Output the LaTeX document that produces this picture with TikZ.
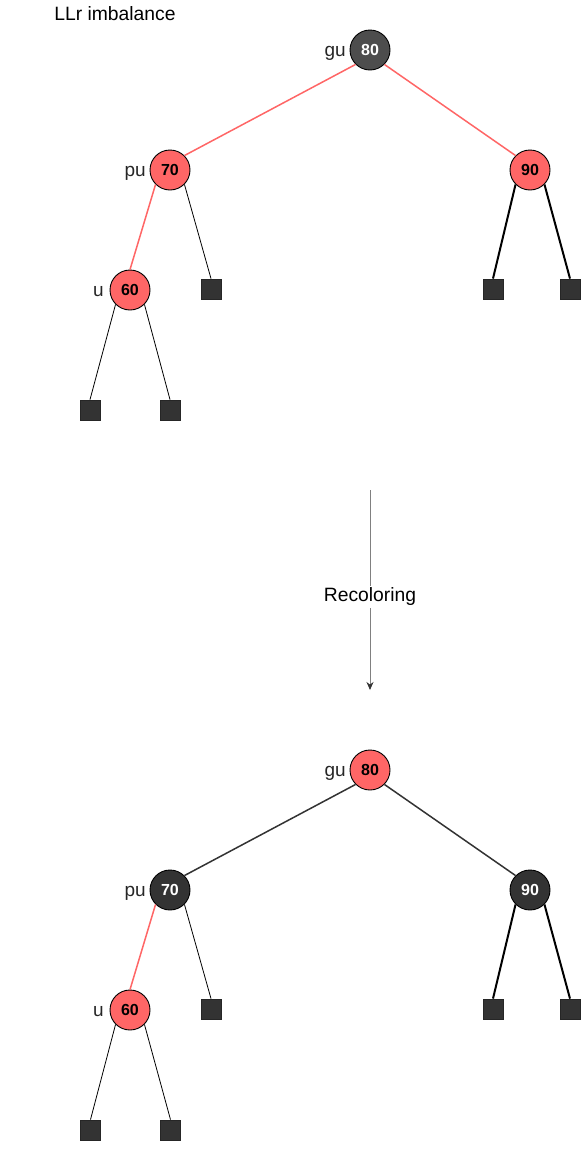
\documentclass[tikz,border=0pt]{standalone}
\usepackage{fontspec}
\setmainfont{Liberation Sans}
\usetikzlibrary{arrows.meta}
\definecolor{rbred}{HTML}{FF6666}
\definecolor{rbdark}{HTML}{333333}
\definecolor{rbgray}{HTML}{4D4D4D}
\definecolor{arrgray}{HTML}{808080}
\tikzset{
  rbnode/.style={circle,draw=black,line width=0.9pt,minimum size=40pt,inner sep=0pt,font=\fontsize{16}{19}\selectfont\bfseries},
  rednode/.style={rbnode,fill=rbred,text=black},
  blacknode/.style={rbnode,fill=rbdark,text=white},
  graynode/.style={rbnode,fill=rbgray,text=white},
  leafbox/.style={rectangle,draw=black!85,line width=0.8pt,fill=rbdark,minimum size=20pt,inner sep=0pt},
  lbl/.style={font=\fontsize{19}{22}\selectfont,text=black!85,inner sep=0pt,anchor=base east},
  txt/.style={font=\fontsize{19.3}{22}\selectfont,text=black,inner sep=0pt,anchor=base},
  rededge/.style={draw=rbred,line width=1.5pt},
  darkedge/.style={draw=rbdark,line width=1.5pt},
  thinedge/.style={draw=black,line width=0.8pt},
  thickedge/.style={draw=black,line width=2pt}
}
\begin{document}
\begin{tikzpicture}[x=1pt,y=-1pt]
\useasboundingbox (0,0) rectangle (581,1154);
\node[txt] (title) at (115,20.7) {LLr imbalance};

% ---- top tree ----
\node[graynode] (gu1) at (370,50) {80};
\node[rednode] (pu1) at (170,170) {70};
\node[rednode] (n901) at (530,170) {90};
\node[rednode] (u1) at (130,290) {60};
\node[leafbox] (l11) at (211,289) {};
\node[leafbox] (l12) at (493,289) {};
\node[leafbox] (l13) at (570,289) {};
\node[leafbox] (l14) at (90,410) {};
\node[leafbox] (l15) at (170,410) {};
\node[lbl] (gulbl1) at (346,56.5) {gu};
\node[lbl] (pulbl1) at (146,176.5) {pu};
\node[lbl] (ulbl1) at (104,296.5) {u};

\draw[rededge] (gu1.south west) -- (pu1.north east);
\draw[rededge] (gu1.south east) -- (n901.north west);
\draw[rededge] (pu1.south west) -- (u1.north);
\draw[thinedge] (pu1.south east) -- (l11.north);
\draw[thickedge] (n901.south west) -- (l12.north);
\draw[thickedge] (n901.south east) -- (l13.north);
\draw[thinedge] (u1.south west) -- (l14.north);
\draw[thinedge] (u1.south east) -- (l15.north);

% ---- arrow ----
\coordinate (a1) at (370,490);
\coordinate (a2) at (370,690);
\draw[draw=arrgray,line width=1pt,-{Stealth[length=8pt,width=7pt,color=rbdark]}] (a1) -- (a2);
\node[txt,fill=white,inner sep=2pt] (rec) at (370,601.5) {Recoloring};

% ---- bottom tree ----
\node[rednode] (gu2) at (370,770) {80};
\node[blacknode] (pu2) at (170,890) {70};
\node[blacknode] (n902) at (530,890) {90};
\node[rednode] (u2) at (130,1010) {60};
\node[leafbox] (l21) at (211,1009) {};
\node[leafbox] (l22) at (493,1009) {};
\node[leafbox] (l23) at (570,1009) {};
\node[leafbox] (l24) at (90.5,1130) {};
\node[leafbox] (l25) at (170.5,1130) {};
\node[lbl] (gulbl2) at (346,776.5) {gu};
\node[lbl] (pulbl2) at (146,896.5) {pu};
\node[lbl] (ulbl2) at (104,1016.5) {u};

\draw[darkedge] (gu2.south west) -- (pu2.north east);
\draw[darkedge] (gu2.south east) -- (n902.north west);
\draw[rededge] (pu2.south west) -- (u2.north);
\draw[thinedge] (pu2.south east) -- (l21.north);
\draw[thickedge] (n902.south west) -- (l22.north);
\draw[thickedge] (n902.south east) -- (l23.north);
\draw[thinedge] (u2.south west) -- (l24.north);
\draw[thinedge] (u2.south east) -- (l25.north);
\end{tikzpicture}
\end{document}
